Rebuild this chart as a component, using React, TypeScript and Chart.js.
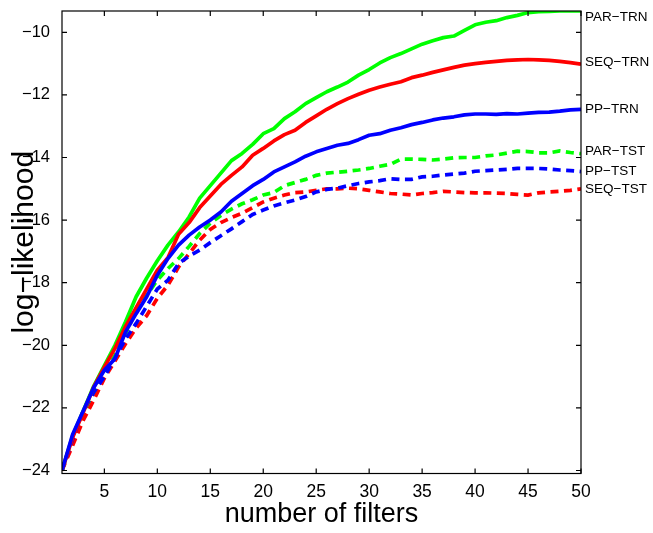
import React, { useEffect, useRef } from "react";
import { Chart, registerables } from "chart.js";

Chart.register(...registerables);

// number of filters (x categories)
const filters = [
  1, 2, 3, 4, 5, 6, 7, 8, 9, 10, 11, 12, 13, 14, 15, 16, 17, 18, 19, 20, 21, 22, 23, 24, 25,
  26, 27, 28, 29, 30, 31, 32, 33, 34, 35, 36, 37, 38, 39, 40, 41, 42, 43, 44, 45, 46, 47, 48, 49, 50,
];

const xTicks = [5, 10, 15, 20, 25, 30, 35, 40, 45, 50];
const yTicks = [-24, -22, -20, -18, -16, -14, -12, -10];

const parTrn = [
  -24.0, -22.9, -22.1, -21.3, -20.65, -20.0, -19.25, -18.45, -17.85, -17.3,
  -16.8, -16.38, -15.9, -15.3, -14.9, -14.5, -14.1, -13.87, -13.58, -13.24,
  -13.08, -12.76, -12.54, -12.28, -12.09, -11.9, -11.75, -11.59, -11.37, -11.19,
  -10.98, -10.81, -10.68, -10.53, -10.38, -10.27, -10.17, -10.12, -9.94, -9.76,
  -9.68, -9.63, -9.53, -9.46, -9.37, -9.34, -9.33, -9.32, -9.32, -9.32,
];

const seqTrn = [
  -24.0, -22.95, -22.15, -21.33, -20.7, -20.1, -19.4, -18.8, -18.2, -17.6,
  -17.2, -16.45, -16.08, -15.6, -15.23, -14.86, -14.57, -14.3, -13.93, -13.71,
  -13.47, -13.27, -13.13, -12.88, -12.67, -12.46, -12.28, -12.12, -11.98, -11.85,
  -11.75, -11.66, -11.58, -11.45, -11.37, -11.28, -11.2, -11.12, -11.05, -11.0,
  -10.96, -10.93, -10.9, -10.88, -10.87, -10.88, -10.9, -10.93, -10.97, -11.02,
];

const ppTrn = [
  -24.0, -22.85, -22.1, -21.35, -20.8, -20.43, -19.57, -18.99, -18.45, -17.76,
  -17.23, -16.8, -16.48, -16.22, -16.0, -15.74, -15.4, -15.15, -14.9, -14.7,
  -14.46, -14.3, -14.14, -13.96, -13.82, -13.71, -13.61, -13.55, -13.43, -13.29,
  -13.24, -13.13, -13.05, -12.95, -12.88, -12.8, -12.74, -12.7, -12.64, -12.61,
  -12.61, -12.62, -12.6, -12.61, -12.58, -12.56, -12.55, -12.52, -12.48, -12.46,
];

const parTst = [
  -24.0, -23.0, -22.2, -21.5, -20.9, -20.32, -19.63, -18.9, -18.4, -17.92,
  -17.55, -17.23, -16.84, -16.43, -16.1, -15.85, -15.65, -15.48, -15.35, -15.2,
  -15.12, -14.9, -14.8, -14.7, -14.57, -14.5, -14.47, -14.44, -14.4, -14.35,
  -14.28, -14.22, -14.05, -14.05, -14.06, -14.08, -14.05, -14.01, -14.0, -14.0,
  -13.95, -13.92, -13.86, -13.8, -13.81, -13.85, -13.85, -13.79, -13.84, -13.88,
];

const ppTst = [
  -24.0, -23.0, -22.1, -21.5, -21.0, -20.4, -19.8, -19.3, -18.75, -18.2,
  -17.92, -17.39, -17.15, -16.96, -16.72, -16.5, -16.28, -16.05, -15.82, -15.68,
  -15.55, -15.45, -15.36, -15.25, -15.1, -15.02, -14.98, -14.9, -14.83, -14.78,
  -14.74, -14.68, -14.7, -14.7, -14.62, -14.6, -14.56, -14.53, -14.5, -14.44,
  -14.42, -14.4, -14.38, -14.35, -14.35, -14.35, -14.37, -14.4, -14.42, -14.45,
];

const seqTst = [
  -24.0, -23.2, -22.4, -21.75, -21.05, -20.5, -19.95, -19.45, -19.05, -18.5,
  -18.08, -17.5, -17.07, -16.64, -16.3, -16.08, -15.92, -15.78, -15.6, -15.42,
  -15.3, -15.2, -15.12, -15.1, -15.05, -15.0, -15.0, -14.98, -15.0, -15.05,
  -15.1, -15.15, -15.17, -15.2, -15.15, -15.12, -15.08, -15.1, -15.12, -15.13,
  -15.13, -15.14, -15.15, -15.18, -15.2, -15.13, -15.1, -15.08, -15.05, -15.0,
];

// end-of-line labels and the y value each is written at
const endLabels = ["PAR\u2212TRN", "SEQ\u2212TRN", "PP\u2212TRN", "PAR\u2212TST", "PP\u2212TST", "SEQ\u2212TST"];
const endLabelY = [-9.51, -10.97, -12.46, -13.8, -14.43, -15.02];

const FONT = '"Liberation Sans", Arial, Helvetica, sans-serif';

const toXY = (vals: number[]) => vals.map((v, i) => ({ x: filters[i], y: v }));

const TICK = 5;

const boxPlugin = {
  id: "matlabBox",
  afterDatasetsDraw(chart: any) {
    const { ctx, chartArea, scales } = chart;
    const { left, right, top, bottom } = chartArea;
    const xs = scales.x;
    const ys = scales.y;
    ctx.save();
    ctx.strokeStyle = "#000";
    ctx.lineWidth = 1.2;
    ctx.strokeRect(left, top, right - left, bottom - top);
    ctx.beginPath();
    xTicks.forEach((t) => {
      const px = xs.getPixelForValue(t);
      ctx.moveTo(px, bottom);
      ctx.lineTo(px, bottom - TICK);
      ctx.moveTo(px, top);
      ctx.lineTo(px, top + TICK);
    });
    yTicks.forEach((t) => {
      const py = ys.getPixelForValue(t);
      ctx.moveTo(left, py);
      ctx.lineTo(left + TICK, py);
      ctx.moveTo(right, py);
      ctx.lineTo(right - TICK, py);
    });
    ctx.stroke();
    ctx.fillStyle = "#000";
    ctx.font = `13.5px ${FONT}`;
    ctx.textAlign = "left";
    ctx.textBaseline = "middle";
    endLabels.forEach((name, i) => {
      ctx.fillText(name, right + 4, ys.getPixelForValue(endLabelY[i]));
    });
    ctx.restore();
  },
};

export default function App() {
  const ref = useRef<HTMLCanvasElement>(null);

  useEffect(() => {
    if (!ref.current) return;
    const solid = (label: string, vals: number[], color: string) => ({
      label,
      data: toXY(vals),
      borderColor: color,
      backgroundColor: color,
      borderWidth: 3.7,
      pointRadius: 0,
      tension: 0,
      borderJoinStyle: "round" as const,
      fill: false,
    });
    const dashed = (label: string, vals: number[], color: string) => ({
      ...solid(label, vals, color),
      borderDash: [8, 5.5],
      borderCapStyle: "butt" as const,
      borderJoinStyle: "miter" as const,
    });

    const chart = new Chart(ref.current, {
      type: "line",
      data: {
        datasets: [
          solid("PP-TRN", ppTrn, "#0000ff"),
          solid("SEQ-TRN", seqTrn, "#ff0000"),
          solid("PAR-TRN", parTrn, "#00ff00"),
          dashed("PP-TST", ppTst, "#0000ff"),
          dashed("SEQ-TST", seqTst, "#ff0000"),
          dashed("PAR-TST", parTst, "#00ff00"),
        ],
      },
      options: {
        animation: false,
        responsive: false,
        devicePixelRatio: 1,
        layout: { padding: { left: 0, right: 72, top: 11, bottom: 0 } },
        plugins: {
          legend: { display: false },
          tooltip: { enabled: false },
        },
        scales: {
          x: {
            type: "linear",
            min: 1,
            max: 50,
            afterBuildTicks: (s: any) => {
              s.ticks = xTicks.map((v) => ({ value: v }));
            },
            afterFit: (s: any) => {
              s.height = 59.5;
              s.paddingLeft = 0;
              s.paddingRight = 0;
            },
            grid: { display: false, drawTicks: false },
            border: { display: false },
            ticks: {
              color: "#000",
              font: { family: FONT, size: 17.5 },
              padding: 8,
              maxRotation: 0,
              autoSkip: false,
            },
            title: {
              display: true,
              text: "number of filters",
              color: "#000",
              font: { family: FONT, size: 27 },
              padding: { top: 0, bottom: 2 },
            },
          },
          y: {
            type: "linear",
            min: -24.096,
            max: -9.32,
            afterBuildTicks: (s: any) => {
              s.ticks = yTicks.map((v) => ({ value: v }));
            },
            afterFit: (s: any) => {
              s.width = 62;
              s.paddingTop = 0;
              s.paddingBottom = 0;
            },
            grid: { display: false, drawTicks: false },
            border: { display: false },
            ticks: {
              color: "#000",
              font: { family: FONT, size: 16.5 },
              padding: 12,
              autoSkip: false,
              callback: (v: any) => String(v).replace("-", "\u2212"),
            },
            title: {
              display: true,
              text: "log\u2212likelihood",
              color: "#000",
              font: { family: FONT, size: 30 },
              padding: { top: 7, bottom: 0 },
            },
          },
        },
      },
      plugins: [boxPlugin],
    } as any);

    return () => chart.destroy();
  }, []);

  return (
    <div style={{ position: "fixed", left: 0, top: 0, width: 653, height: 533, background: "#fff" }}>
      <canvas ref={ref} width={653} height={533} style={{ display: "block" }} />
    </div>
  );
}
